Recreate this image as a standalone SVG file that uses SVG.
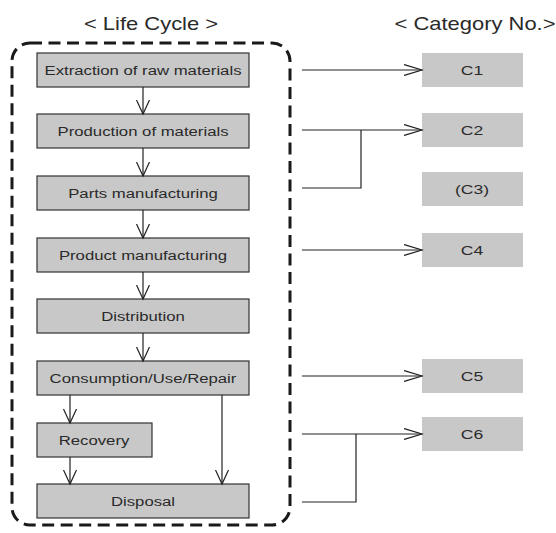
<svg xmlns="http://www.w3.org/2000/svg" width="556" height="533" viewBox="0 0 556 533">
<defs>
<marker id="vh" markerWidth="16" markerHeight="16" refX="14" refY="7" orient="auto" markerUnits="userSpaceOnUse" viewBox="0 0 16 14">
<path d="M0,0.5 L14,7 L0,13.5" fill="none" stroke="#222" stroke-width="1.2"/>
</marker>
<marker id="hh" markerWidth="20" markerHeight="12" refX="18" refY="6" orient="auto" markerUnits="userSpaceOnUse" viewBox="0 0 20 12">
<path d="M0,0.5 L18,6 L0,11.5" fill="none" stroke="#222" stroke-width="1.2"/>
</marker>
<style>
.lc{fill:#c8c8c8;stroke:#333;stroke-width:1.2}
.cat{fill:#c8c8c8;stroke:none}
text{font-family:"Liberation Sans",Arial,Helvetica,sans-serif;fill:#2a2a2a;text-anchor:middle}
.t{font-size:13.5px}
.h{font-size:18px}
.c{fill:none;stroke:#222;stroke-width:1.2}
</style>
</defs>
<g transform="translate(151,30) scale(1.22,1)"><text class="h" x="0" y="0">&lt; Life Cycle &gt;</text></g>
<g transform="translate(475,30) scale(1.22,1)"><text class="h" x="0" y="0">&lt; Category No.&gt;</text></g>
<rect x="12" y="43" width="278" height="482" rx="18" ry="18" fill="none" stroke="#1a1a1a" stroke-width="3" stroke-dasharray="12,6.5"/>
<g id="n1"><rect class="lc" x="37" y="53" width="212" height="34"/><text class="t" transform="translate(143,75) scale(1.24,1)">Extraction of raw materials</text></g>
<g id="n2"><rect class="lc" x="37" y="114" width="212" height="34"/><text class="t" transform="translate(143,136) scale(1.24,1)">Production of materials</text></g>
<g id="n3"><rect class="lc" x="37" y="176" width="212" height="34"/><text class="t" transform="translate(143,198) scale(1.24,1)">Parts manufacturing</text></g>
<g id="n4"><rect class="lc" x="37" y="238" width="212" height="34"/><text class="t" transform="translate(143,260) scale(1.24,1)">Product manufacturing</text></g>
<g id="n5"><rect class="lc" x="37" y="299" width="212" height="34"/><text class="t" transform="translate(143,321) scale(1.24,1)">Distribution</text></g>
<g id="n6"><rect class="lc" x="37" y="361" width="212" height="34"/><text class="t" transform="translate(143,383) scale(1.24,1)">Consumption/Use/Repair</text></g>
<g id="n7"><rect class="lc" x="37" y="423" width="115" height="34"/><text class="t" transform="translate(94,445) scale(1.24,1)">Recovery</text></g>
<g id="n8"><rect class="lc" x="37" y="484" width="212" height="34"/><text class="t" transform="translate(143,506) scale(1.24,1)">Disposal</text></g>
<g id="c1"><rect class="cat" x="422" y="53" width="101" height="34"/><text class="t" transform="translate(472,75) scale(1.3,1)">C1</text></g>
<g id="c2"><rect class="cat" x="422" y="113" width="101" height="34"/><text class="t" transform="translate(472,135) scale(1.3,1)">C2</text></g>
<g id="c3"><rect class="cat" x="422" y="172" width="101" height="34"/><text class="t" transform="translate(472,194) scale(1.3,1)">(C3)</text></g>
<g id="c4"><rect class="cat" x="422" y="233" width="101" height="34"/><text class="t" transform="translate(472,255) scale(1.3,1)">C4</text></g>
<g id="c5"><rect class="cat" x="422" y="359" width="101" height="34"/><text class="t" transform="translate(472,381) scale(1.3,1)">C5</text></g>
<g id="c6"><rect class="cat" x="422" y="417" width="101" height="34"/><text class="t" transform="translate(472,439) scale(1.3,1)">C6</text></g>
<g id="connectors">
<path class="c" d="M143,87 V114" marker-end="url(#vh)"/>
<path class="c" d="M143,148 V176" marker-end="url(#vh)"/>
<path class="c" d="M143,210 V238" marker-end="url(#vh)"/>
<path class="c" d="M143,272 V299" marker-end="url(#vh)"/>
<path class="c" d="M143,333 V361" marker-end="url(#vh)"/>
<path class="c" d="M70,395 V423" marker-end="url(#vh)"/>
<path class="c" d="M70,457 V484" marker-end="url(#vh)"/>
<path class="c" d="M222,395 V484" marker-end="url(#vh)"/>
<path class="c" d="M302,70 H422" marker-end="url(#hh)"/>
<path class="c" d="M302,130 H422" marker-end="url(#hh)"/>
<path class="c" d="M302,188 H361 V130"/>
<path class="c" d="M302,250 H422" marker-end="url(#hh)"/>
<path class="c" d="M302,376 H422" marker-end="url(#hh)"/>
<path class="c" d="M302,434 H422" marker-end="url(#hh)"/>
<path class="c" d="M302,502 H356 V434"/>
</g>
</svg>
